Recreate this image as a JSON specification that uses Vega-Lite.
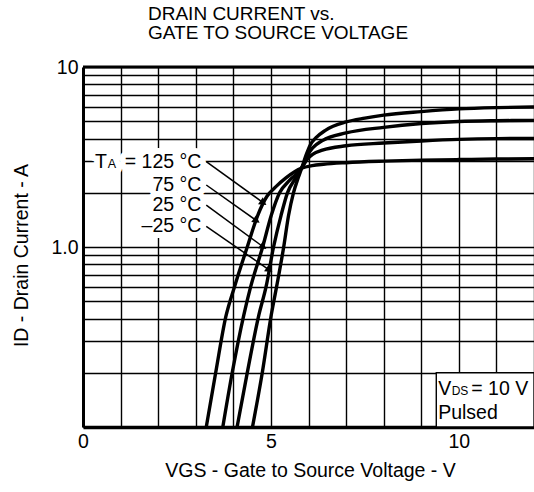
{
  "$schema": "https://vega.github.io/schema/vega-lite/v6.json",
  "width": 451,
  "height": 360,
  "autosize": {"type": "none"},
  "padding": {"left": 83, "top": 67, "right": 0, "bottom": 65},
  "background": "white",
  "config": {
    "view": {"stroke": null},
    "font": "Liberation Sans",
    "axisX": {
      "values": [0, 1, 2, 3, 4, 5, 6, 7, 8, 9, 10, 11, 12],
      "labelExpr": "datum.value == 0 || datum.value == 5 || datum.value == 10 ? format(datum.value, 'd') : ''",
      "grid": true, "gridColor": "black", "gridWidth": 1.4, "gridOpacity": 1,
      "ticks": false,
      "domainColor": "black", "domainWidth": 3.4,
      "labelFontSize": 19.5, "labelColor": "black", "labelPadding": 5,
      "labelFlush": false, "labelOverlap": false,
      "titleFontSize": 19.5, "titleFontWeight": "normal", "titleColor": "black",
      "titleBaseline": "alphabetic", "titleX": 227, "titleY": 49
    },
    "axisY": {
      "values": [0.1, 0.2, 0.3, 0.4, 0.5, 0.6, 0.7, 0.8, 0.9, 1, 2, 3, 4, 5, 6, 7, 8, 9, 10],
      "labelExpr": "datum.value == 10 ? '10' : datum.value == 1 ? '1.0' : ''",
      "grid": true, "gridColor": "black", "gridWidth": 1.4, "gridOpacity": 1,
      "ticks": false,
      "domainColor": "black", "domainWidth": 3,
      "labelFontSize": 19.5, "labelColor": "black", "labelPadding": 5,
      "labelFlush": false, "labelOverlap": false,
      "titleFontSize": 19.5, "titleFontWeight": "normal", "titleColor": "black",
      "titleAngle": -90, "titleBaseline": "alphabetic", "titleAlign": "center",
      "titleX": -56, "titleY": 188
    }
  },
  "title": {
    "text": ["DRAIN CURRENT vs.", "GATE TO SOURCE VOLTAGE"],
    "anchor": "start",
    "frame": "group",
    "dx": 65,
    "offset": 14,
    "fontSize": 19,
    "fontWeight": "normal",
    "lineHeight": 19,
    "color": "black",
    "font": "Liberation Sans"
  },
  "datasets": {
    "curves": [
      {"ta": "125 °C", "x": 3.28, "y": 0.1},
      {"ta": "125 °C", "x": 3.53, "y": 0.2},
      {"ta": "125 °C", "x": 3.8, "y": 0.41},
      {"ta": "125 °C", "x": 4.03, "y": 0.6},
      {"ta": "125 °C", "x": 4.37, "y": 1.0},
      {"ta": "125 °C", "x": 4.65, "y": 1.5},
      {"ta": "125 °C", "x": 4.9, "y": 1.92},
      {"ta": "125 °C", "x": 5.12, "y": 2.15},
      {"ta": "125 °C", "x": 5.4, "y": 2.42},
      {"ta": "125 °C", "x": 5.82, "y": 2.74},
      {"ta": "125 °C", "x": 6.1, "y": 2.83},
      {"ta": "125 °C", "x": 6.4, "y": 2.88},
      {"ta": "125 °C", "x": 7.0, "y": 2.94},
      {"ta": "125 °C", "x": 8.0, "y": 3.0},
      {"ta": "125 °C", "x": 9.0, "y": 3.04},
      {"ta": "125 °C", "x": 10.0, "y": 3.06},
      {"ta": "125 °C", "x": 11.0, "y": 3.08},
      {"ta": "125 °C", "x": 12.0, "y": 3.09},
      {"ta": "75 °C", "x": 3.72, "y": 0.1},
      {"ta": "75 °C", "x": 3.97, "y": 0.2},
      {"ta": "75 °C", "x": 4.28, "y": 0.42},
      {"ta": "75 °C", "x": 4.46, "y": 0.6},
      {"ta": "75 °C", "x": 4.78, "y": 1.0},
      {"ta": "75 °C", "x": 5.01, "y": 1.5},
      {"ta": "75 °C", "x": 5.23, "y": 2.0},
      {"ta": "75 °C", "x": 5.5, "y": 2.35},
      {"ta": "75 °C", "x": 5.82, "y": 2.75},
      {"ta": "75 °C", "x": 5.98, "y": 3.25},
      {"ta": "75 °C", "x": 6.11, "y": 3.55},
      {"ta": "75 °C", "x": 6.37, "y": 3.9},
      {"ta": "75 °C", "x": 7.0, "y": 4.3},
      {"ta": "75 °C", "x": 8.0, "y": 4.62},
      {"ta": "75 °C", "x": 9.0, "y": 4.85},
      {"ta": "75 °C", "x": 10.0, "y": 4.98},
      {"ta": "75 °C", "x": 11.0, "y": 5.03},
      {"ta": "75 °C", "x": 12.0, "y": 5.05},
      {"ta": "25 °C", "x": 4.1, "y": 0.1},
      {"ta": "25 °C", "x": 4.37, "y": 0.2},
      {"ta": "25 °C", "x": 4.68, "y": 0.42},
      {"ta": "25 °C", "x": 4.87, "y": 0.6},
      {"ta": "25 °C", "x": 5.07, "y": 1.0},
      {"ta": "25 °C", "x": 5.27, "y": 1.5},
      {"ta": "25 °C", "x": 5.44, "y": 2.0},
      {"ta": "25 °C", "x": 5.65, "y": 2.4},
      {"ta": "25 °C", "x": 5.82, "y": 2.75},
      {"ta": "25 °C", "x": 5.98, "y": 3.1},
      {"ta": "25 °C", "x": 6.11, "y": 3.27},
      {"ta": "25 °C", "x": 6.37, "y": 3.45},
      {"ta": "25 °C", "x": 7.0, "y": 3.65},
      {"ta": "25 °C", "x": 8.0, "y": 3.78},
      {"ta": "25 °C", "x": 9.0, "y": 3.88},
      {"ta": "25 °C", "x": 10.0, "y": 3.96},
      {"ta": "25 °C", "x": 11.0, "y": 4.0},
      {"ta": "25 °C", "x": 12.0, "y": 4.01},
      {"ta": "-25 °C", "x": 4.51, "y": 0.1},
      {"ta": "-25 °C", "x": 4.77, "y": 0.2},
      {"ta": "-25 °C", "x": 5.01, "y": 0.42},
      {"ta": "-25 °C", "x": 5.15, "y": 0.6},
      {"ta": "-25 °C", "x": 5.34, "y": 1.0},
      {"ta": "-25 °C", "x": 5.47, "y": 1.5},
      {"ta": "-25 °C", "x": 5.6, "y": 2.0},
      {"ta": "-25 °C", "x": 5.72, "y": 2.4},
      {"ta": "-25 °C", "x": 5.82, "y": 2.75},
      {"ta": "-25 °C", "x": 5.95, "y": 3.3},
      {"ta": "-25 °C", "x": 6.05, "y": 3.7},
      {"ta": "-25 °C", "x": 6.2, "y": 4.05},
      {"ta": "-25 °C", "x": 6.45, "y": 4.45},
      {"ta": "-25 °C", "x": 7.0, "y": 4.95},
      {"ta": "-25 °C", "x": 7.5, "y": 5.2},
      {"ta": "-25 °C", "x": 8.0, "y": 5.4},
      {"ta": "-25 °C", "x": 9.0, "y": 5.65},
      {"ta": "-25 °C", "x": 10.0, "y": 5.85},
      {"ta": "-25 °C", "x": 11.0, "y": 5.95},
      {"ta": "-25 °C", "x": 12.0, "y": 6.0}
    ],
    "frame": [{"y": 10}],
    "box": [{"x": 9.4, "x2": 12, "y": 0.1, "y2": 0.2}],
    "temps": [
      {"x": 3.15, "y": 2.98, "label": "= 125 °C"},
      {"x": 3.15, "y": 2.21, "label": "75 °C"},
      {"x": 3.15, "y": 1.71, "label": "25 °C"},
      {"x": 3.15, "y": 1.3, "label": "–25 °C"}
    ],
    "tLead": [{"x": 0.32, "y": 2.98, "label": "T"}],
    "tSub": [{"x": 0.66, "y": 2.98, "label": "A"}],
    "note": [
      {"x": 9.45, "y": 0.1626, "label": "V"},
      {"x": 10.33, "y": 0.1626, "label": "= 10 V"},
      {"x": 9.45, "y": 0.1197, "label": "Pulsed"}
    ],
    "noteSub": [{"x": 9.81, "y": 0.1626, "label": "DS"}],
    "arrows": [
      {"x": 3.28, "y": 2.98, "x2": 4.8, "y2": 1.76},
      {"x": 3.28, "y": 2.21, "x2": 4.62, "y2": 1.4},
      {"x": 3.28, "y": 1.71, "x2": 4.8, "y2": 1.0},
      {"x": 3.28, "y": 1.3, "x2": 4.96, "y2": 0.745}
    ]
  },
  "layer": [
    {
      "data": {"name": "curves"},
      "mark": {"type": "line", "color": "black", "strokeWidth": 3.4, "interpolate": "monotone"},
      "encoding": {
        "x": {
          "field": "x", "type": "quantitative",
          "title": "VGS - Gate to Source Voltage - V",
          "scale": {"domain": [0, 12], "nice": false, "zero": false}
        },
        "y": {
          "field": "y", "type": "quantitative",
          "title": "ID - Drain Current - A",
          "scale": {"type": "log", "domain": [0.1, 10], "nice": false}
        },
        "detail": {"field": "ta"}
      }
    },
    {
      "data": {"name": "frame"},
      "mark": {"type": "rule", "color": "black", "strokeWidth": 3},
      "encoding": {"y": {"field": "y", "type": "quantitative", "title": "ID - Drain Current - A"}}
    },
    {
      "data": {"name": "box"},
      "mark": {"type": "rect", "fill": "white", "stroke": "black", "strokeWidth": 1.4},
      "encoding": {
        "x": {"field": "x", "type": "quantitative", "title": "VGS - Gate to Source Voltage - V"},
        "x2": {"field": "x2", "title": "VGS - Gate to Source Voltage - V"},
        "y": {"field": "y", "type": "quantitative", "title": "ID - Drain Current - A"},
        "y2": {"field": "y2", "title": "ID - Drain Current - A"}
      }
    },
    {
      "data": {"name": "temps"},
      "mark": {"type": "text", "align": "right", "baseline": "middle", "fontSize": 19.5, "fill": "white", "stroke": "white", "strokeWidth": 12, "strokeJoin": "round"},
      "encoding": {
        "x": {"field": "x", "type": "quantitative", "title": "VGS - Gate to Source Voltage - V"},
        "y": {"field": "y", "type": "quantitative", "title": "ID - Drain Current - A"},
        "text": {"field": "label"}
      }
    },
    {
      "data": {"name": "tLead"},
      "mark": {"type": "text", "align": "left", "baseline": "middle", "fontSize": 19.5, "fill": "white", "stroke": "white", "strokeWidth": 12, "strokeJoin": "round"},
      "encoding": {
        "x": {"field": "x", "type": "quantitative", "title": "VGS - Gate to Source Voltage - V"},
        "y": {"field": "y", "type": "quantitative", "title": "ID - Drain Current - A"},
        "text": {"field": "label"}
      }
    },
    {
      "data": {"name": "tSub"},
      "mark": {"type": "text", "align": "left", "baseline": "middle", "fontSize": 12.5, "dy": 2, "fill": "white", "stroke": "white", "strokeWidth": 12, "strokeJoin": "round"},
      "encoding": {
        "x": {"field": "x", "type": "quantitative", "title": "VGS - Gate to Source Voltage - V"},
        "y": {"field": "y", "type": "quantitative", "title": "ID - Drain Current - A"},
        "text": {"field": "label"}
      }
    },
    {
      "data": {"name": "temps"},
      "mark": {"type": "text", "align": "right", "baseline": "middle", "fontSize": 19.5, "color": "black"},
      "encoding": {
        "x": {"field": "x", "type": "quantitative", "title": "VGS - Gate to Source Voltage - V"},
        "y": {"field": "y", "type": "quantitative", "title": "ID - Drain Current - A"},
        "text": {"field": "label"}
      }
    },
    {
      "data": {"name": "tLead"},
      "mark": {"type": "text", "align": "left", "baseline": "middle", "fontSize": 19.5, "color": "black"},
      "encoding": {
        "x": {"field": "x", "type": "quantitative", "title": "VGS - Gate to Source Voltage - V"},
        "y": {"field": "y", "type": "quantitative", "title": "ID - Drain Current - A"},
        "text": {"field": "label"}
      }
    },
    {
      "data": {"name": "tSub"},
      "mark": {"type": "text", "align": "left", "baseline": "middle", "fontSize": 12.5, "dy": 2, "color": "black"},
      "encoding": {
        "x": {"field": "x", "type": "quantitative", "title": "VGS - Gate to Source Voltage - V"},
        "y": {"field": "y", "type": "quantitative", "title": "ID - Drain Current - A"},
        "text": {"field": "label"}
      }
    },
    {
      "data": {"name": "note"},
      "mark": {"type": "text", "align": "left", "baseline": "middle", "fontSize": 19.5, "color": "black"},
      "encoding": {
        "x": {"field": "x", "type": "quantitative", "title": "VGS - Gate to Source Voltage - V"},
        "y": {"field": "y", "type": "quantitative", "title": "ID - Drain Current - A"},
        "text": {"field": "label"}
      }
    },
    {
      "data": {"name": "noteSub"},
      "mark": {"type": "text", "align": "left", "baseline": "middle", "fontSize": 12, "dy": 2, "color": "black"},
      "encoding": {
        "x": {"field": "x", "type": "quantitative", "title": "VGS - Gate to Source Voltage - V"},
        "y": {"field": "y", "type": "quantitative", "title": "ID - Drain Current - A"},
        "text": {"field": "label"}
      }
    },
    {
      "data": {"name": "arrows"},
      "mark": {"type": "rule", "color": "black", "strokeWidth": 1.5},
      "encoding": {
        "x": {"field": "x", "type": "quantitative", "title": "VGS - Gate to Source Voltage - V"},
        "y": {"field": "y", "type": "quantitative", "title": "ID - Drain Current - A"},
        "x2": {"field": "x2", "title": "VGS - Gate to Source Voltage - V"},
        "y2": {"field": "y2", "title": "ID - Drain Current - A"}
      }
    },
    {
      "data": {"name": "arrows"},
      "mark": {"type": "point", "shape": "triangle-right", "angle": 35, "filled": true, "color": "black", "opacity": 1, "size": 70},
      "encoding": {
        "x": {"field": "x2", "type": "quantitative", "title": "VGS - Gate to Source Voltage - V"},
        "y": {"field": "y2", "type": "quantitative", "title": "ID - Drain Current - A"}
      }
    }
  ]
}
